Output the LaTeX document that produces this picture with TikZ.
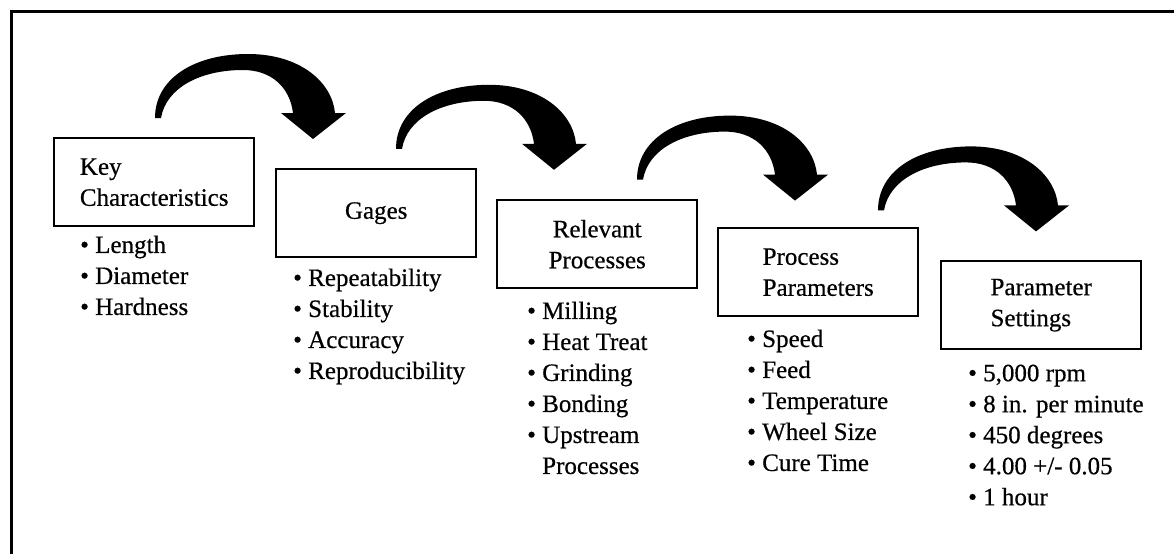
\documentclass[tikz,border=0pt]{standalone}
\usepackage{fontspec}
\setmainfont{Liberation Serif}[FakeBold=0.5]
\usetikzlibrary{positioning}

\begin{document}
\begin{tikzpicture}[
x=1pt, y=-1pt,
font=\fontsize{25}{31}\selectfont,
stage/.style={rectangle, draw=black, line width=2.4pt, minimum width=200pt, minimum height=88pt, inner sep=0pt},
items/.style={align=left, inner sep=0pt},
bent arrow/.style={fill=black},
]
\useasboundingbox (0,0) rectangle (1174,554);
\draw[line width=3pt] (1174,11.5) -- (11.5,11.5) -- (11.5,554);

% stages
\node[stage, anchor=north west, align=left] (key) at (53,137) {Key\\Characteristics};
\node[stage, anchor=north west, align=center] (gages) at (275,168) {Gages};
\node[stage, anchor=north west, align=center] (relproc) at (496,199) {Relevant\\Processes};
\node[stage, anchor=north west, align=left] (procpar) at (717,227) {Process\\Parameters};
\node[stage, anchor=north west, align=left] (parset) at (940,260) {Parameter\\Settings};

% what goes with each stage
\node[items, below right=8pt and 27pt of key.south west] (keylist)
  {\textbullet\ Length\\\textbullet\ Diameter\\\textbullet\ Hardness};
\node[items, below right=10pt and 18pt of gages.south west] (gageslist)
  {\textbullet\ Repeatability\\\textbullet\ Stability\\\textbullet\ Accuracy\\\textbullet\ Reproducibility};
\node[items, below right=12pt and 31pt of relproc.south west] (relproclist)
  {\textbullet\ Milling\\\textbullet\ Heat Treat\\\textbullet\ Grinding\\\textbullet\ Bonding\\
   \textbullet\ Upstream\\\hphantom{\textbullet\ }Processes};
\node[items, below right=12pt and 30pt of procpar.south west] (procparlist)
  {\textbullet\ Speed\\\textbullet\ Feed\\\textbullet\ Temperature\\\textbullet\ Wheel Size\\\textbullet\ Cure Time};
\node[items, below right=14pt and 28pt of parset.south west] (parsetlist)
  {\textbullet\ 5,000 rpm\\\textbullet\ 8 in. per minute\\\textbullet\ 450 degrees\\
   \textbullet\ 4.00 +/- 0.05\\\textbullet\ 1 hour};

% curved arrows from one stage to the next
\foreach \k in {0,...,3}
  \fill[bent arrow, shift={(241*\k,30.8*\k)}]
    (155,118) .. controls (155,78) and (195,54) .. (248,54)
    .. controls (300,54) and (332,82) .. (335,113)
    -- (346,113) -- (313,139) -- (281,113) -- (293,113)
    .. controls (290,88) and (272,70) .. (243,70)
    .. controls (200,70) and (166,88) .. (161,118) -- cycle;
\end{tikzpicture}
\end{document}
